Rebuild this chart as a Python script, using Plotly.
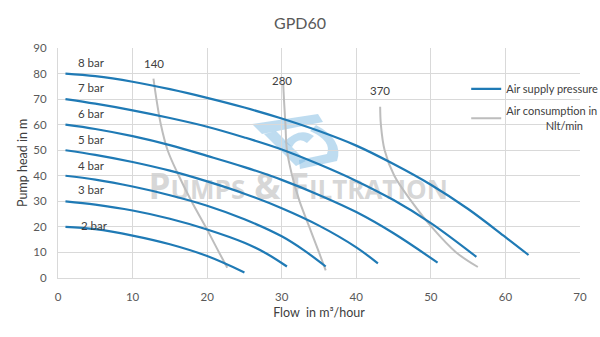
import plotly.graph_objects as go

# Pump curves per air supply pressure: flow (m3/h) and head (m)
pressures = ["8 bar", "7 bar", "6 bar", "5 bar", "4 bar", "3 bar", "2 bar"]
flow_8 = [1, 5, 10, 15, 20, 25, 30, 35, 40, 45, 50, 55, 60, 63.1]
head_8 = [80, 79, 76.8, 73.9, 70.5, 66.7, 62.4, 57.5, 51.8, 44.6, 36.5, 27, 16, 9]
flow_7 = [1, 5, 10, 15, 20, 25, 30, 35, 40, 45, 50, 56.1]
head_7 = [70, 68.2, 65.6, 62.6, 59.2, 55.0, 50.3, 44.5, 38.0, 30.5, 21.5, 8.3]
flow_6 = [1, 5, 10, 15, 20, 25, 30, 35, 40, 45, 50.9]
head_6 = [60, 58.3, 55.5, 52, 47.8, 43.4, 38.4, 32.5, 25.8, 17.5, 6]
flow_5 = [1, 5, 10, 15, 20, 25, 30, 35, 40, 42.9]
head_5 = [50, 48.2, 45.4, 42, 37.8, 33, 27.3, 20.5, 12, 5.7]
flow_4 = [1, 5, 10, 15, 20, 25, 30, 33, 35.9]
head_4 = [40, 38.5, 35.8, 32.4, 28.3, 23, 16.3, 10.8, 4.5]
flow_3 = [1, 5, 10, 15, 20, 25, 28, 30.7]
head_3 = [30, 28.7, 26.4, 23.2, 19, 13.8, 9.5, 4.5]
flow_2 = [1, 5, 10, 15, 20, 25]
head_2 = [20, 19.1, 16.6, 13.2, 8.6, 2.2]

# Air consumption curves (Nlt/min)
consumption = ["140", "280", "370"]
flow_140 = [12.8, 13.2, 13.8, 14.7, 16.2, 17.9, 19.8, 21.6, 22.7]
head_140 = [78, 70, 60, 50, 40, 30, 20, 10, 4]
flow_280 = [30.2, 30.3, 30.5, 30.7, 31.4, 32.4, 33.7, 35.0, 35.9]
head_280 = [76, 70, 60, 50, 40, 30, 20, 10, 3]
flow_370 = [43.2, 43.3, 43.8, 45.1, 47.4, 50.1, 53.4, 56.3]
head_370 = [67, 60, 50, 40, 30, 20, 10, 4.3]

# Label anchor points
pressure_label_x = [4.5, 4.5, 4.5, 4.5, 4.5, 4.5, 4.9]
pressure_label_y = [84.5, 74.4, 64.3, 54.1, 44.1, 34.5, 20.6]
consumption_label_x = [12.9, 30.1, 43.2]
consumption_label_y = [83.8, 77.2, 73.3]

BLUE = "#1f7ab5"
GREY = "#bdbdbd"
TEXT = "#595959"
FONT = "Lato"

# plot area in pixels, used to place the logo outline
L, R, T, B = 58, 580, 48, 278


def to_dom(x, y):
    return f"{(x - L) / (R - L):.4f},{(B - y) / (B - T):.4f}"


def px_path(segments):
    """Build an SVG path in axis-domain units from pixel points, one point per command."""
    parts = []
    for cmd, pts in segments:
        if cmd == "Q":
            parts.append("Q " + " ".join(to_dom(*p) for p in pts))
        else:
            for p in pts:
                parts.append(f"{cmd} {to_dom(*p)}")
                if cmd == "M":
                    cmd = "L"
    return " ".join(parts) + " Z"


fig = go.Figure()

# Company watermark, drawn first so the curves sit on top
fig.add_trace(go.Scatter(
    x=[32.2], y=[34.5], mode="text", showlegend=False, hoverinfo="skip",
    text=["<b>P<span style='font-size:26px'>UMPS</span> &amp; F<span style='font-size:26px'>ILTRATION</span></b>"],
    textfont=dict(family="Open Sans", size=35, color="rgba(208,208,208,0.85)")))

pressure_series = [(flow_8, head_8), (flow_7, head_7), (flow_6, head_6), (flow_5, head_5),
                   (flow_4, head_4), (flow_3, head_3), (flow_2, head_2)]
consumption_series = [(flow_140, head_140), (flow_280, head_280), (flow_370, head_370)]

nb = "\u00a0" * 14
for i, (q, h) in enumerate(consumption_series):
    fig.add_trace(go.Scatter(
        x=q, y=h, mode="lines", line=dict(color=GREY, width=2, shape="spline", smoothing=1),
        name="Air consumption in<br>" + nb + "Nlt/min", legendgroup="air",
        showlegend=(i == 0), legendrank=2, hoverinfo="skip"))

for i, (q, h) in enumerate(pressure_series):
    fig.add_trace(go.Scatter(
        x=q, y=h, mode="lines", line=dict(color=BLUE, width=2.2, shape="spline", smoothing=1),
        name="Air supply pressure", legendgroup="pressure",
        showlegend=(i == 0), legendrank=1, hoverinfo="skip"))

for label, x, y in zip(pressures, pressure_label_x, pressure_label_y):
    fig.add_annotation(x=x, y=y, text=label, showarrow=False,
                       font=dict(family=FONT, size=11.5, color="#404040"))
for label, x, y in zip(consumption, consumption_label_x, consumption_label_y):
    fig.add_annotation(x=x, y=y, text=label, showarrow=False,
                       font=dict(family=FONT, size=11.5, color="#404040"))

# Vertical axis title
fig.add_annotation(x=-(L - 22) / (R - L), y=0.5, xref="paper", yref="paper",
                   xanchor="center", yanchor="middle",
                   text="Pump head in m", textangle=-90, showarrow=False,
                   font=dict(family=FONT, size=12.5, color="#404040"))

logo_fill = "rgba(125,185,225,0.5)"
logo_paths = [
    [("M", [(252, 124), (318, 114), (323, 122), (262, 134)])],
    [("M", [(264, 134), (276, 131), (306, 161), (296, 166)])],
    [("M", [(284, 142)]), ("Q", [(300, 126), (314, 136)]), ("L", [(307, 143)]),
     ("Q", [(298, 136), (292, 147)])],
    [("M", [(316, 125)]), ("Q", [(344, 140), (337, 161)]),
     ("L", [(300, 169), (299, 160), (327, 154)]), ("Q", [(332, 141), (310, 131)])],
]
for p in logo_paths:
    fig.add_shape(type="path", path=px_path(p), xref="x domain", yref="y domain",
                  fillcolor=logo_fill, line=dict(width=0), layer="below")

fig.update_layout(
    width=600, height=337,
    margin=dict(l=L, r=600 - R, t=T, b=337 - B, autoexpand=False),
    paper_bgcolor="white", plot_bgcolor="white",
    font=dict(family=FONT, color=TEXT, size=11),
    title=dict(text="GPD60", x=0.5, xanchor="center", y=0.93, yanchor="middle",
               font=dict(family=FONT, size=16, color=TEXT)),
    xaxis=dict(range=[0, 70], dtick=10, showgrid=True, gridcolor="#d9d9d9", gridwidth=1,
               zeroline=False, showline=True, linecolor="#d9d9d9",
               ticks="", tickfont=dict(size=11.5, color=TEXT), ticklabelstandoff=8,
               title=dict(text="Flow  in m\u00b3/hour", font=dict(size=12.5, color="#404040"), standoff=6)),
    yaxis=dict(range=[0, 90], dtick=10, showgrid=True, gridcolor="#d9d9d9", gridwidth=1,
               zeroline=False, showline=True, linecolor="#d9d9d9",
               ticks="", tickfont=dict(size=11.5, color=TEXT), ticklabelstandoff=8),
    legend=dict(x=0.782, y=0.885, xanchor="left", yanchor="top", bgcolor="rgba(0,0,0,0)",
                font=dict(family=FONT, size=11, color="#404040"), tracegroupgap=4,
                itemwidth=30),
    showlegend=True,
)

fig.write_html("out.html")
